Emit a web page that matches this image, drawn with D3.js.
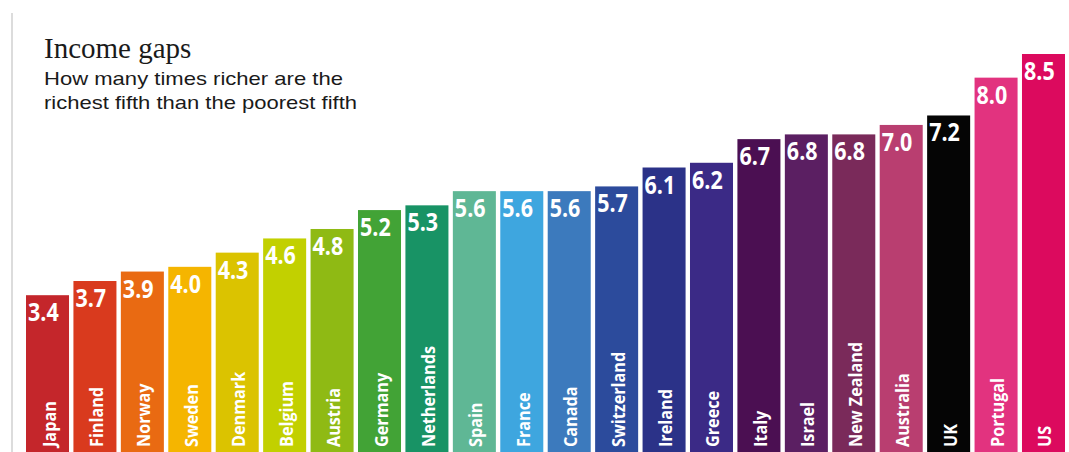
<!DOCTYPE html>
<html>
<head>
<meta charset="utf-8">
<script src="https://cdn.jsdelivr.net/npm/d3@7"></script>
<style>
  body { margin: 0; background: #fff; }
  svg { display: block; }
</style>
</head>
<body>
<div id="chart"></div>
<script>
// data
const countries = ["Japan", "Finland", "Norway", "Sweden", "Denmark", "Belgium", "Austria", "Germany",
  "Netherlands", "Spain", "France", "Canada", "Switzerland", "Ireland", "Greece", "Italy", "Israel",
  "New Zealand", "Australia", "UK", "Portugal", "US"]
const ratios = [3.4, 3.7, 3.9, 4.0, 4.3, 4.6, 4.8, 5.2, 5.3, 5.6, 5.6, 5.6, 5.7, 6.1, 6.2, 6.7, 6.8, 6.8, 7.0, 7.2, 8.0, 8.5]
const barColors = ["#c4262b", "#d93a1e", "#e96a12", "#f5b500", "#dbc300", "#c2d000", "#8fba14", "#42a336",
  "#189365", "#5fb795", "#3ea6df", "#3c7abd", "#2c4b9c", "#2b3288", "#3b2a86", "#4b0f52", "#5b1f62",
  "#7a2a5a", "#b93e70", "#050505", "#e2337f", "#dc0a5e"]

const data = countries.map((c, i) => ({ country: c, value: ratios[i], color: barColors[i] }))

const width = 1069, height = 452

const svg = d3.select("#chart")
  .append("svg")
  .attr("width", width)
  .attr("height", height)

// thin grey rule on the left
svg.append("rect")
  .attr("x", 11).attr("y", 13)
  .attr("width", 2).attr("height", height - 13)
  .attr("fill", "#dcdcdc")

// scales
const x = d3.scaleBand()
  .domain(countries)
  .range([26, 1065])
  .paddingInner(0.093)
  .paddingOuter(0)

const y = d3.scaleLinear()
  .domain([0, 8.5])
  .range([456, 54])

// bars
const g = svg.selectAll(".bar-g")
  .data(data)
  .join("g")
  .attr("class", "bar-g")

g.append("rect")
  .attr("x", d => x(d.country))
  .attr("y", d => y(d.value))
  .attr("width", x.bandwidth())
  .attr("height", d => y(0) - y(d.value))
  .attr("fill", d => d.color)

// value labels
g.append("text")
  .attr("transform", d => "translate(" + (x(d.country) + 2) + "," + (y(d.value) + 26) + ") scale(0.86,1)")
  .text(d => d.value.toFixed(1))
  .style("font", "bold 25px 'Open Sans'")
  .attr("fill", "#fff")

// country labels, rotated
g.append("text")
  .attr("transform", d => "translate(" + (x(d.country) + x.bandwidth() / 2 + 8) + ",447) rotate(-90) scale(0.9,1)")
  .attr("text-anchor", "start")
  .text(d => d.country)
  .style("font", "bold 18px 'Open Sans'")
  .attr("fill", "#fff")

// title
svg.append("text")
  .attr("x", 44).attr("y", 58)
  .text("Income gaps")
  .style("font", "29px 'Liberation Serif'")
  .attr("fill", "#1a1a1a")

svg.append("text")
  .attr("x", 44).attr("y", 85)
  .attr("textLength", 299)
  .attr("lengthAdjust", "spacingAndGlyphs")
  .text("How many times richer are the")
  .style("font", "18.5px 'Liberation Sans'")
  .attr("fill", "#1a1a1a")

svg.append("text")
  .attr("x", 44).attr("y", 109)
  .attr("textLength", 313)
  .attr("lengthAdjust", "spacingAndGlyphs")
  .text("richest fifth than the poorest fifth")
  .style("font", "18.5px 'Liberation Sans'")
  .attr("fill", "#1a1a1a")
</script>
</body>
</html>
